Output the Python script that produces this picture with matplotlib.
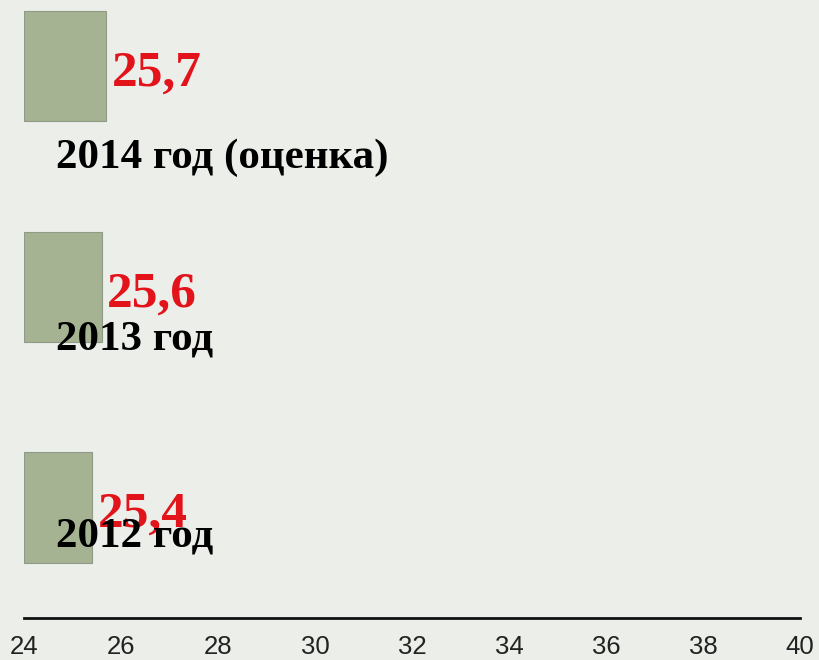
import matplotlib

matplotlib.use("Agg", force=True)
import matplotlib.pyplot as plt

# data
years = ["2012 год", "2013 год", "2014 год (оценка)"]
values = [25.4, 25.6, 25.7]
value_labels = ["25,4", "25,6", "25,7"]
x_ticks = [24, 26, 28, 30, 32, 34, 36, 38, 40]

# layout tweaks (vertical offsets of category labels, data units)
label_dy = [-0.177, -0.285, -0.462]

BG = "#ECEEE9"
BAR = "#A5B392"
RED = "#E3131B"

fig = plt.figure(figsize=(8.19, 6.6), dpi=100, facecolor=BG)
ax = fig.add_axes([24 / 819, 42 / 660, 776 / 819, 618 / 660], facecolor=BG)

ypos = list(range(len(years)))
x0 = x_ticks[0]
ax.barh(ypos, [v - x0 for v in values], left=x0, height=0.5,
        color=BAR, edgecolor="#8F9B86", linewidth=0.8)

for y, v, txt in zip(ypos, values, value_labels):
    ax.annotate(txt, xy=(v, y), xytext=(4, -14), textcoords="offset points",
                ha="left", va="baseline", color=RED, fontsize=37,
                fontweight="bold", family="Liberation Serif")

for y, name, dy in zip(ypos, years, label_dy):
    ax.text(24.66, y + dy, name, ha="left", va="baseline", color="black",
            fontsize=31, fontweight="bold", family="Liberation Serif")

ax.set_xlim(24, 40)
ax.set_ylim(-0.5, 2.3)
ax.set_xticks(x_ticks)
ax.set_xticklabels([str(t) for t in x_ticks], fontsize=18.5,
                   family="Liberation Sans", color="#222222")
ax.tick_params(axis="x", length=0, pad=12)
ax.set_yticks([])
for side in ("top", "right", "left"):
    ax.spines[side].set_visible(False)
ax.spines["bottom"].set_linewidth(2)
ax.spines["bottom"].set_color("#111111")

fig.savefig("out.png", dpi=100, facecolor=BG)
plt.close(fig)
